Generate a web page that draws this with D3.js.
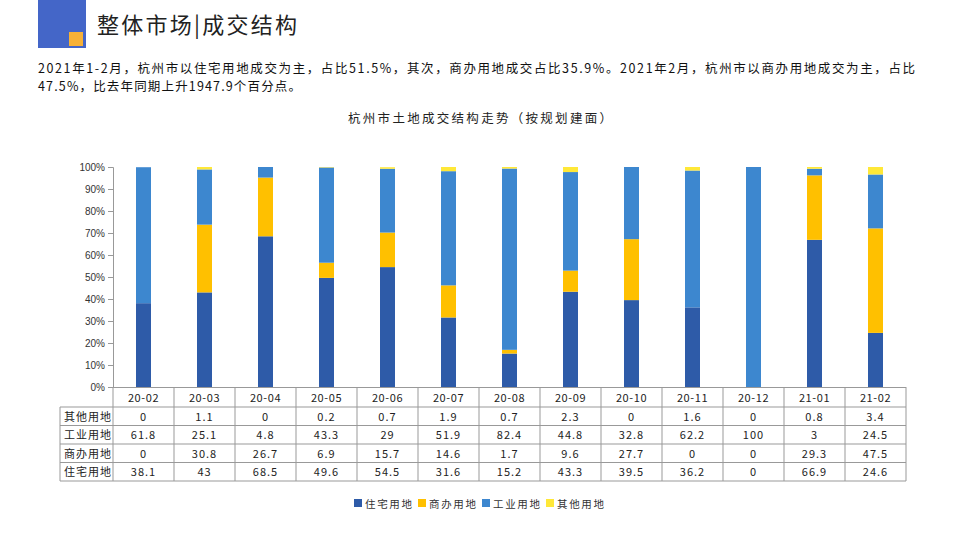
<!DOCTYPE html>
<html><head><meta charset="utf-8">
<script src="https://cdn.jsdelivr.net/npm/d3@7/dist/d3.min.js"></script>
<style>
body{margin:0;background:#fff;}
text{font-family:"Noto Sans CJK SC","Noto Sans",sans-serif;}
</style></head>
<body><svg id="c" width="958" height="539"></svg>
<script>
const categories=["20-02","20-03","20-04","20-05","20-06","20-07","20-08","20-09","20-10","20-11","20-12","21-01","21-02"];
const residential=[38.1,43,68.5,49.6,54.5,31.6,15.2,43.3,39.5,36.2,0,66.9,24.6];
const commercial=[0,30.8,26.7,6.9,15.7,14.6,1.7,9.6,27.7,0,0,29.3,47.5];
const industrial=[61.8,25.1,4.8,43.3,29,51.9,82.4,44.8,32.8,62.2,100,3,24.5];
const other=[0,1.1,0,0.2,0.7,1.9,0.7,2.3,0,1.6,0,0.8,3.4];
const seriesNames=["住宅用地","商办用地","工业用地","其他用地"];
const colors=["#2E5BA8","#FFC000","#3D87CF","#FFE838"];
const yTicks=[0,10,20,30,40,50,60,70,80,90,100];
const tableRows=[["其他用地",other],["工业用地",industrial],["商办用地",commercial],["住宅用地",residential]];

const svg=d3.select("#c");
// header logo
svg.append("rect").attr("x",38).attr("y",0).attr("width",48).attr("height",48).attr("fill","#4466C8");
svg.append("rect").attr("x",69).attr("y",32).attr("width",14).attr("height",14).attr("fill","#F7B137");
svg.append("text").attr("x",97).attr("y",33).attr("font-size",22).attr("fill","#222")
  .attr("textLength",200).attr("lengthAdjust","spacing").text("整体市场|成交结构");
svg.append("text").attr("x",38).attr("y",73).attr("font-size",12.5).attr("fill","#111")
  .attr("textLength",877).attr("lengthAdjust","spacing")
  .text("2021年1-2月，杭州市以住宅用地成交为主，占比51.5%，其次，商办用地成交占比35.9%。2021年2月，杭州市以商办用地成交为主，占比");
svg.append("text").attr("x",38).attr("y",91).attr("font-size",12.5).attr("fill","#111")
  .attr("textLength",263).attr("lengthAdjust","spacing")
  .text("47.5%，比去年同期上升1947.9个百分点。");
svg.append("text").attr("x",480).attr("y",123).attr("text-anchor","middle").attr("font-size",12.5).attr("fill","#222")
  .attr("textLength",264).attr("lengthAdjust","spacing")
  .text("杭州市土地成交结构走势（按规划建面）");

const x0=113,x1=906,yTop=167,yBot=387;
const x=d3.scaleBand().domain(categories).range([x0,x1]);
const y=d3.scaleLinear().domain([0,100]).range([yBot,yTop]);

const data=categories.map((c,i)=>({cat:c,s0:residential[i],s1:commercial[i],s2:industrial[i],s3:other[i]}));
const stack=d3.stack().keys(["s0","s1","s2","s3"])(data);
const bw=15;
svg.append("g").selectAll("g").data(stack).join("g").attr("fill",(d,i)=>colors[i])
  .selectAll("rect").data(d=>d).join("rect")
  .attr("x",d=>x(d.data.cat)+x.bandwidth()/2-bw/2).attr("width",bw)
  .attr("y",d=>y(d[1])).attr("height",d=>Math.max(0,y(d[0])-y(d[1])));

// y axis
const ya=svg.append("g").attr("transform",`translate(${x0},0)`)
  .call(d3.axisLeft(y).tickValues(yTicks).tickFormat(d=>d+"%").tickSize(5).tickPadding(3));
ya.select(".domain").attr("stroke","#999");
ya.selectAll(".tick line").attr("stroke","#999");
ya.selectAll("text").attr("font-size",10).attr("fill","#333").style("font-family","'Liberation Sans',Arial,sans-serif");

// table
const rowH=18.5, tLeft=60;
const g=svg.append("g").attr("stroke","#999").attr("stroke-width",1);
g.append("line").attr("x1",x0).attr("x2",x1).attr("y1",yBot+0.5).attr("y2",yBot+0.5);
const hdrBot=yBot+20;
for(let r=0;r<=tableRows.length;r++){
  const yy=hdrBot+r*rowH;
  g.append("line").attr("x1",tLeft).attr("x2",x1).attr("y1",yy).attr("y2",yy);
}
const tBot=hdrBot+tableRows.length*rowH;
g.append("line").attr("x1",tLeft).attr("x2",tLeft).attr("y1",hdrBot).attr("y2",tBot);
categories.forEach(c=>{g.append("line").attr("x1",x(c)).attr("x2",x(c)).attr("y1",yBot).attr("y2",tBot);});
g.append("line").attr("x1",x1).attr("x2",x1).attr("y1",yBot).attr("y2",tBot);

const tt=svg.append("g").attr("font-size",11).attr("fill","#222");
categories.forEach(c=>{tt.append("text").attr("x",x(c)+x.bandwidth()/2).attr("y",yBot+14.5).attr("text-anchor","middle").attr("letter-spacing",0.6).text(c);});
tableRows.forEach((row,r)=>{
  const yy=hdrBot+r*rowH+13.5;
  tt.append("text").attr("x",tLeft+4).attr("y",yy).attr("textLength",47).attr("lengthAdjust","spacing").text(row[0]);
  row[1].forEach((v,i)=>{tt.append("text").attr("x",x(categories[i])+x.bandwidth()/2).attr("y",yy).attr("text-anchor","middle").attr("letter-spacing",1).text(v);});
});

// legend
const legItems=[{w:64},{w:64},{w:64},{w:60}];
let lx=354;
const lg=svg.append("g");
legItems.forEach((it,i)=>{
  lg.append("rect").attr("x",lx).attr("y",499).attr("width",8).attr("height",8).attr("fill",colors[i]);
  lg.append("text").attr("x",lx+11).attr("y",507.5).attr("font-size",10.5).attr("fill","#333")
    .attr("textLength",47).attr("lengthAdjust","spacing").text(seriesNames[i]);
  lx+=it.w;
});
</script></body></html>
